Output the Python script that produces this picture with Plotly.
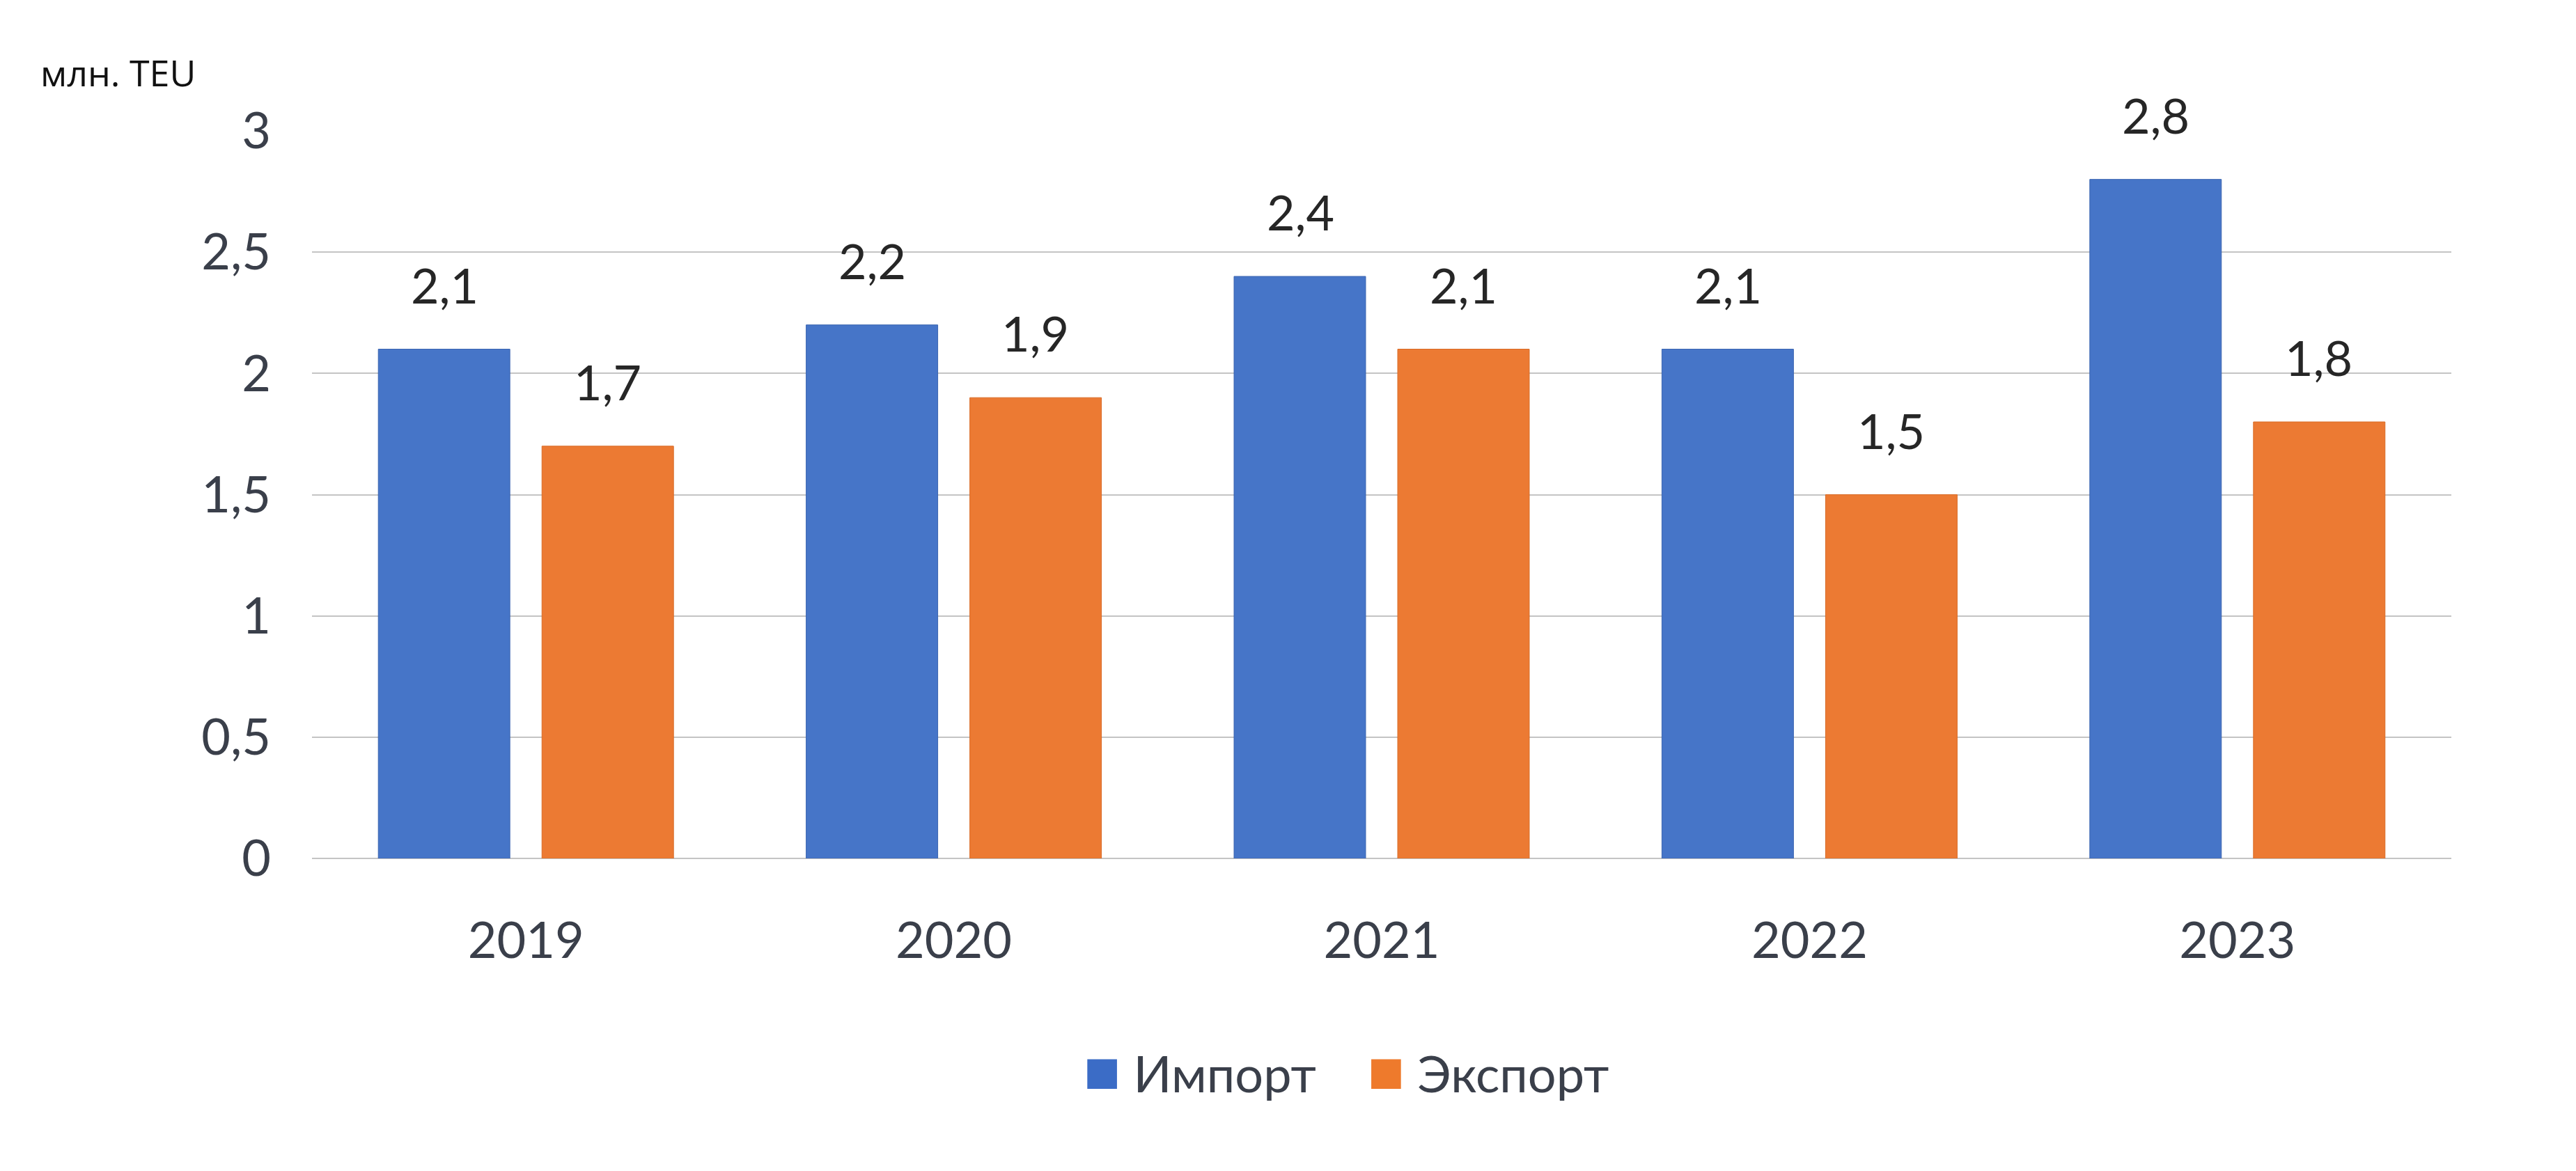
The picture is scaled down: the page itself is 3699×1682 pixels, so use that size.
import plotly.graph_objects as go

years = ["2019", "2020", "2021", "2022", "2023"]
import_vals = [2.1, 2.2, 2.4, 2.1, 2.8]
export_vals = [1.7, 1.9, 2.1, 1.5, 1.8]
import_labels = ["2,1", "2,2", "2,4", "2,1", "2,8"]
export_labels = ["1,7", "1,9", "2,1", "1,5", "1,8"]
y_ticks = [0, 0.5, 1, 1.5, 2, 2.5, 3]
y_tick_text = ["0", "0,5", "1", "1,5", "2", "2,5", "3"]

BLUE = "#4675c8"
ORANGE = "#ec7a33"
NUM_FONT = "Lato"

fig = go.Figure()
fig.add_trace(go.Bar(name="Импорт", x=years, y=import_vals, marker=dict(color=BLUE, line=dict(color="#3a64b0", width=1)), showlegend=False))
fig.add_trace(go.Bar(name="Экспорт", x=years, y=export_vals, marker=dict(color=ORANGE, line=dict(color="#d86a25", width=1)), showlegend=False))

annotations = []
# category axis: annotation x given as category index
for i, (v, t) in enumerate(zip(import_vals, import_labels)):
    annotations.append(dict(x=i, y=v, text=t, showarrow=False, xshift=-117, yshift=93,
                            font=dict(family=NUM_FONT, size=70, color="#262626")))
for i, (v, t) in enumerate(zip(export_vals, export_labels)):
    annotations.append(dict(x=i, y=v, text=t, showarrow=False, xshift=117, yshift=93,
                            font=dict(family=NUM_FONT, size=70, color="#262626")))

annotations.append(dict(xref="paper", yref="paper", x=-0.1276, y=1.0804, xanchor="left", yanchor="middle",
                        text="млн. TEU", showarrow=False,
                        font=dict(family="Open Sans", size=52, color="#111111")))
annotations.append(dict(xref="paper", yref="paper", x=0.4834, y=-0.289, xanchor="center", yanchor="middle",
                        showarrow=False,
                        text=("<span style='color:#3b6cc6;font-size:88px'>■</span> Импорт"
                              "    <span style='color:#ee7a2c;font-size:88px'>■</span> Экспорт"),
                        font=dict(family=NUM_FONT, size=72, color="#3a3f4a")))

fig.update_layout(
    width=3699, height=1682,
    margin=dict(l=448, r=179, t=188, b=449),
    paper_bgcolor="white", plot_bgcolor="white",
    barmode="group", bargap=0.235, bargroupgap=0.196,
    annotations=annotations,
    showlegend=False,
)
fig.update_xaxes(type="category", range=[-0.5, len(years) - 0.5], showgrid=False, showline=False,
                 ticks="", ticklabelstandoff=70,
                 tickfont=dict(family=NUM_FONT, size=72, color="#3a3f4a"))
fig.update_yaxes(range=[0, 3], tickvals=y_ticks, ticktext=y_tick_text,
                 showgrid=True, gridcolor="#c4c4c4", gridwidth=2,
                 zeroline=True, zerolinecolor="#c4c4c4", zerolinewidth=2,
                 showline=False, ticks="", ticklabelstandoff=58,
                 tickfont=dict(family=NUM_FONT, size=72, color="#3a3f4a"))

fig.write_html("out.html")
